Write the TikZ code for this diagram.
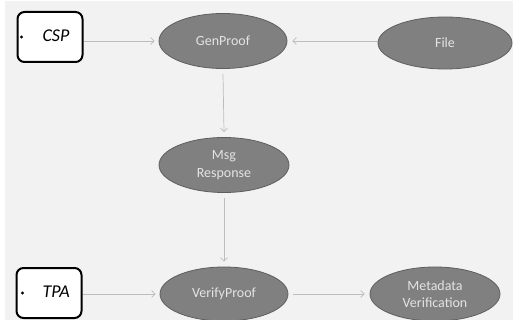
\documentclass[tikz,border=0pt]{standalone}
\usepackage{fontspec}
\setmainfont{Carlito}
\usetikzlibrary{shapes.geometric,arrows.meta}
\definecolor{pagebg}{HTML}{F2F2F2}
\definecolor{ovalfill}{HTML}{808080}
\definecolor{ovaledge}{HTML}{5E5E5E}
\definecolor{ovaltext}{HTML}{E4E4E4}
\definecolor{linkgray}{HTML}{BDBDBD}
\tikzset{
  oval/.style={ellipse, fill=ovalfill, draw=ovaledge, line width=0.8pt,
    minimum width=#1, minimum height=55pt, inner sep=0pt,
    text=ovaltext, font=\fontsize{14}{17.5}\selectfont, align=center},
  oval/.default=129pt,
  actor/.style={draw=black, line width=2pt, rounded corners=7pt, fill=white,
    minimum width=65pt, minimum height=50pt, inner sep=0pt},
  link/.style={draw=linkgray, line width=0.7pt,
    -{Straight Barb[length=3.5pt,width=7pt,line width=0.7pt]}}
}
\begin{document}
\begin{tikzpicture}[x=1pt,y=-1pt]
  \useasboundingbox (0,0) rectangle (513,320);
  \fill[white] (0,0) rectangle (513,320);
  \fill[pagebg] (5,1) rectangle (513,320);

  % actors
  \node[actor] (csp) at (50,37) {};
  \node[actor] (tpa) at (49,293) {};
  \fill (csp.west) ++(5pt,0) circle (1.6pt) coordinate (cspdot);
  \fill (tpa.west) ++(7pt,0) circle (1.6pt) coordinate (tpadot);
  \node[font=\fontsize{18}{20}\selectfont\itshape, anchor=west] (csplabel) at (39,36) {CSP};
  \node[font=\fontsize{18}{20}\selectfont\itshape, anchor=west] (tpalabel) at (39,292) {TPA};

  % processes
  \node[oval=128pt] (gen) at (223,41) {GenProof};
  \node[oval=134pt, minimum height=52pt] (file) at (445,43) {File};
  \node[oval=130pt] (msg) at (224,165) {Msg\\Response};
  \node[oval=128pt, minimum height=54pt] (ver) at (224,294) {VerifyProof};
  \node[oval=130pt, minimum height=54pt] (meta) at (435,294) {Metadata\\Verification};

  % links
  \draw[link] (csp.east |- gen.west) -- ([xshift=-4pt]gen.west);
  \draw[link] (file.west |- gen.east) -- ([xshift=5pt]gen.east);
  \draw[link] ([yshift=-5pt]gen.south) -- ([yshift=5pt]msg.north);
  \draw[link] ([yshift=-5pt]msg.south) -- ([yshift=5pt]ver.north);
  \draw[link] (tpa.east |- ver.west) -- ([xshift=-4pt]ver.west);
  \draw[link] ([xshift=5pt]ver.east) -- ([xshift=-5pt]meta.west);
\end{tikzpicture}
\end{document}
